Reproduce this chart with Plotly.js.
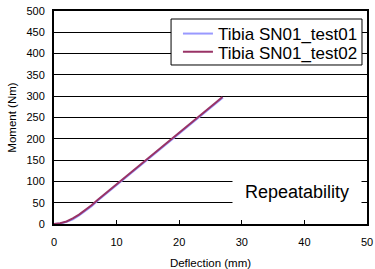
<!DOCTYPE html>
<html>
<head>
<meta charset="utf-8">
<script src="https://cdn.plot.ly/plotly-3.0.1.min.js"></script>
<style>html,body{margin:0;padding:0;background:#fff;}#chart{width:375px;height:269px;}</style>
</head>
<body>
<div id="chart"></div>
<script>
const seriesNames = ["Tibia SN01_test01", "Tibia SN01_test02"];
const deflection01 = [0,1,2,3,4,5,6,7,8,9,10,11,12,13,14,15,16,17,18,19,20,21,22,23,24,25,26,27.0];
const moment01 = [0,1,5,11,20,30,42,55,67,79,91,104,116,129,141,153,165,177,189,201,213,225,237,249,261,273,285,297];
const deflection02 = [0,1,2,3,4,5,6,7,8,9,10,11,12,13,14,15,16,17,18,19,20,21,22,23,24,25,26,26.9];
const moment02 = [0,2,6,13,22,32,44,57,69,81,93,105,118,131,143,155,167,179,191,203,215,227,239,251,263,275,287,298];
const xTicks = [0,10,20,30,40,50];
const yTicks = [0,50,100,150,200,250,300,350,400,450,500];
const annotationText = "Repeatability";

const font = "Liberation Sans, Arial, sans-serif";
const legendFont = {family: font, size: 17, color: "#000"};
const traces = [
  {x: deflection01, y: moment01, name: seriesNames[0], mode: "lines", legend: "legend",
   line: {color: "#9999FF", width: 2}},
  {x: deflection02, y: moment02, name: seriesNames[1], mode: "lines", legend: "legend2",
   line: {color: "#993366", width: 2}}
];
const layout = {
  width: 375, height: 269,
  margin: {l: 54, r: 8, t: 11, b: 45},
  paper_bgcolor: "#fff", plot_bgcolor: "#fff",
  font: {family: font, color: "#000", size: 11},
  showlegend: true,
  legend: {x: 0.396, xanchor: "left", y: 0.892, yanchor: "middle", bgcolor: "rgba(0,0,0,0)",
           borderwidth: 0, font: legendFont},
  legend2: {x: 0.396, xanchor: "left", y: 0.806, yanchor: "middle", bgcolor: "rgba(0,0,0,0)",
           borderwidth: 0, font: legendFont},
  shapes: [{type: "rect", xref: "paper", yref: "paper", x0: 0.374, x1: 0.984, y0: 0.7465, y1: 0.9624,
            fillcolor: "#fff", line: {color: "#000", width: 1}, layer: "above"}],
  xaxis: {range: [0, 50], tickvals: xTicks, ticks: "inside", ticklen: 4, tickcolor: "#000",
          showgrid: false, zeroline: false, showline: true, linecolor: "#000", linewidth: 2, mirror: true,
          tickfont: {family: font, size: 11}, ticklabelstandoff: 7, fixedrange: true,
          title: {text: "Deflection (mm)", font: {family: font, size: 11.5}, standoff: 12}},
  yaxis: {range: [0, 500], tickvals: yTicks, ticks: "", showgrid: true, gridcolor: "#000", gridwidth: 1,
          zeroline: false, showline: true, linecolor: "#000", linewidth: 2, mirror: true,
          tickfont: {family: font, size: 11}, ticklabelstandoff: 5, fixedrange: true,
          title: {text: "Moment (Nm)", font: {family: font, size: 11.5}, standoff: 7}},
  annotations: [{text: annotationText, xref: "paper", yref: "paper", x: 0.984, xanchor: "right",
                 y: 0.1526, yanchor: "middle", showarrow: false, bgcolor: "#fff", width: 126, height: 23,
                 font: {family: font, size: 18, color: "#000"}}]
};
Plotly.newPlot("chart", traces, layout, {displayModeBar: false, staticPlot: true});
</script>
</body>
</html>
